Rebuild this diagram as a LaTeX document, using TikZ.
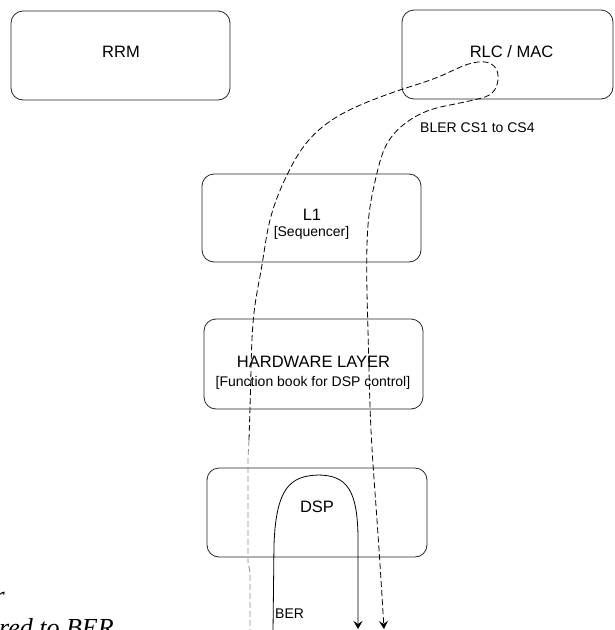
\documentclass[tikz,border=0pt]{standalone}
\usepackage{fontspec}
\setmainfont{Liberation Sans}
\newfontfamily\capserif{Liberation Serif}
\usetikzlibrary{arrows.meta,hobby}

\begin{document}
\begin{tikzpicture}[x=1pt,y=-1pt,
  box/.style={draw=black!85, line width=0.8pt, rounded corners=12pt, inner sep=0pt},
  mainlbl/.style={font=\fontsize{16.5}{19}\selectfont, anchor=base, inner sep=0pt},
  sublbl/.style={font=\fontsize{14}{16}\selectfont, anchor=base, inner sep=0pt},
  flowline/.style={line width=0.8pt, dash pattern=on 6pt off 3pt},
  tipend/.style={-{Stealth[length=8pt,width=9pt,inset=3pt]}},
  captext/.style={font=\capserif\itshape\fontsize{26}{30}\selectfont, inner sep=0pt},
]
\useasboundingbox (0,0) rectangle (615,630);
\fill[white] (0,0) rectangle (615,630);

% layer boxes
\node[box, minimum width=219pt, minimum height=89pt] (rrm) at (120.5,55.5) {};
\node[box, minimum width=211pt, minimum height=89pt] (rlc) at (507.5,54.5) {};
\node[box, minimum width=219pt, minimum height=88pt] (l1)  at (311.5,218) {};
\node[box, minimum width=219pt, minimum height=90pt] (hw)  at (313.5,364) {};
\node[box, minimum width=220pt, minimum height=89pt] (dsp) at (317,512.5) {};

% box labels
\node[mainlbl] (rrmt) at (121,57) {RRM};
\node[mainlbl] (rlct) at (511.5,57) {RLC / MAC};
\node[mainlbl] (l1t)  at (312,220) {L1};
\node[sublbl]  (l1s)  at (311.5,236) {[Sequencer]};
\node[mainlbl] (hwt)  at (313.5,367) {HARDWARE LAYER};
\node[sublbl]  (hws)  at (313,386) {[Function book for DSP control]};
\node[mainlbl] (dspt) at (317,512) {DSP};

% end points of the flows
\coordinate (g0) at (250,632);
\coordinate (a0) at (249,440);
\coordinate (a1) at (384,629);
\coordinate (b0) at (273,632);
\coordinate (b1) at (358,629);

% BLER loop up to RLC/MAC and back down
\draw[flowline, draw=black!45] (a0) -- (248,458) -- (248,562) -- (250,572) -- (g0);
\draw[flowline, tipend, use Hobby shortcut]
  (a0) .. (251,370) .. (255,305) .. (262,265) .. (270,220) .. (287,175)
  .. (308,141) .. (335,118) .. (370,101) .. (403,89) .. (443,75) .. (478,62)
  .. (494,66) .. (498,80) .. (492,93) .. (478,99) .. (455,104) .. (430,110)
  .. (407,122) .. (388,142) .. (377,173) .. (370,207) .. (367,245)
  .. (368,330) .. (371,430) .. (377,520) .. (381,580) .. (a1);
\node[sublbl, anchor=base west] (bler) at (420,132) {BLER CS1 to CS4};

% BER loop through the DSP
\draw[line width=0.8pt, tipend] (b0) -- (274,545)
  .. controls (276,488) and (290,476) .. (318,475)
  .. controls (348,475) and (357,492) .. (358,535) -- (b1);
\node[sublbl, anchor=base west] (ber) at (275,618) {BER};

% caption text running off the lower left edge
\node[captext, anchor=base east] (capa) at (5,604) {r};
\node[captext, anchor=base west] (capb) at (-1,636) {red to BER};
\end{tikzpicture}
\end{document}
